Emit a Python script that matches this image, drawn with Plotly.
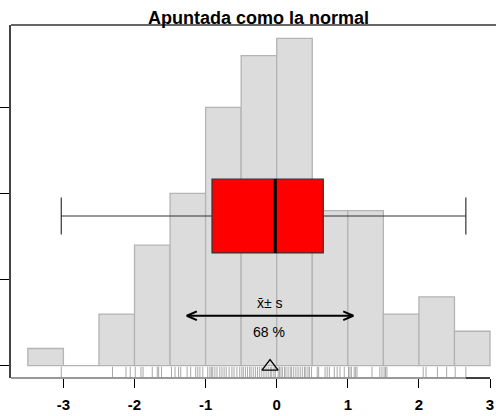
import plotly.graph_objects as go

# Histogram: bin edges and counts
bin_edges = [-3.5, -3.0, -2.5, -2.0, -1.5, -1.0, -0.5, 0.0, 0.5, 1.0, 1.5, 2.0, 2.5, 3.0]
counts = [1, 0, 3, 7, 10, 15, 18, 19, 9, 9, 3, 4, 2]

# Individual observations for the rug
rug_x = [
    -3.03,
    -2.31, -2.12, -2.06,
    -1.99, -1.91, -1.88, -1.75, -1.68, -1.66, -1.62,
    -1.48, -1.43, -1.38, -1.35, -1.26, -1.21, -1.14, -1.11, -1.08, -1.04,
    -0.97, -0.94, -0.92, -0.90, -0.87, -0.84, -0.80, -0.77, -0.74, -0.71,
    -0.67, -0.63, -0.60, -0.56, -0.52,
    -0.49, -0.47, -0.44, -0.41, -0.38, -0.36, -0.33, -0.30, -0.27, -0.24,
    -0.21, -0.18, -0.15, -0.12, -0.09, -0.07, -0.04, -0.02,
    0.02, 0.04, 0.06, 0.08, 0.11, 0.13, 0.16, 0.19, 0.21, 0.24,
    0.27, 0.30, 0.33, 0.36, 0.39, 0.41, 0.44, 0.46, 0.49,
    0.57, 0.59, 0.68, 0.71, 0.74, 0.81, 0.85, 0.89, 0.95,
    1.01, 1.03, 1.05, 1.09, 1.11, 1.13, 1.34, 1.45, 1.48,
    1.51, 1.53, 1.55,
    2.06, 2.10, 2.26, 2.39,
    2.51, 2.66,
]

# Box-plot summary
box_low, box_q1, box_median, box_q3, box_high = -3.03, -0.91, -0.02, 0.655, 2.66
box_center, box_height = 8.69, 4.28

# Mean and standard deviation
mean_x, sd_x = -0.094, 1.17
pct_label = "68 %"

x_ticks = [-3, -2, -1, 0, 1, 2, 3]
y_ticks = [0, 5, 10, 15]

x_range = [-3.737, 3.084]
y_range = [-0.714, 19.78]

W, H = 496, 416
margin = dict(l=11, r=0, t=25, b=38)
px_x = (W - margin["l"] - margin["r"]) / (x_range[1] - x_range[0])
px_y = (H - margin["t"] - margin["b"]) / (y_range[1] - y_range[0])

centers = [(a + b) / 2 for a, b in zip(bin_edges[:-1], bin_edges[1:])]
widths = [b - a for a, b in zip(bin_edges[:-1], bin_edges[1:])]

fig = go.Figure()

fig.add_trace(go.Bar(
    x=centers, y=counts, width=widths,
    marker=dict(color="#dcdcdc", line=dict(color="#b4b4b4", width=1.3)),
    hoverinfo="skip",
))

# Rug of observations beneath the bars
rx, ry = [], []
for v in rug_x:
    rx += [v, v, None]
    ry += [-0.06, -0.67, None]
fig.add_trace(go.Scatter(x=rx, y=ry, mode="lines",
                         line=dict(color="#a8a8a8", width=1), hoverinfo="skip"))

fig.add_trace(go.Box(
    orientation="h",
    y=[box_center], q1=[box_q1], median=[box_median], q3=[box_q3],
    lowerfence=[box_low], upperfence=[box_high],
    width=box_height, whiskerwidth=0.5,
    fillcolor="#ff0000", line=dict(color="#333333", width=1.2),
    hoverinfo="skip",
))

# Double arrow spanning mean ± sd
arrow_y = 2.90
head_dx = 10 / px_x
head_dy = 4.3 / px_y
lo, hi = mean_x - sd_x, mean_x + sd_x
ax_ = [lo, hi, None,
       lo + head_dx, lo, lo + head_dx, None,
       hi - head_dx, hi, hi - head_dx]
ay_ = [arrow_y, arrow_y, None,
       arrow_y + head_dy, arrow_y, arrow_y - head_dy, None,
       arrow_y + head_dy, arrow_y, arrow_y - head_dy]
fig.add_trace(go.Scatter(x=ax_, y=ay_, mode="lines",
                         line=dict(color="black", width=2), hoverinfo="skip"))

# Mean marker on the axis
fig.add_trace(go.Scatter(x=[mean_x], y=[-0.05], mode="markers",
                         marker=dict(symbol="triangle-up-open", size=14,
                                     color="black", line=dict(width=1.3)),
                         hoverinfo="skip"))

txt_font = dict(family="Liberation Sans, Arial", size=14, color="black")
fig.add_annotation(x=mean_x, y=3.64, text="x\u0304\u00b1 s", showarrow=False, font=txt_font)
fig.add_annotation(x=mean_x - 0.02, y=1.94, text=pct_label, showarrow=False, font=txt_font)

# Median line and frame
fig.add_shape(type="line", layer="above", x0=box_median, x1=box_median,
              y0=box_center - box_height / 2, y1=box_center + box_height / 2,
              line=dict(color="black", width=3))
fig.add_shape(type="line", xref="paper", yref="paper", x0=0, x1=1, y0=1, y1=1,
              line=dict(color="#666666", width=2))
fig.add_shape(type="line", xref="x", yref="paper", x0=x_range[0], x1=box_high, y0=0, y1=0,
              line=dict(color="#777777", width=1.5))
fig.add_shape(type="line", xref="x", yref="paper", x0=box_high, x1=x_ticks[-1], y0=0, y1=0,
              line=dict(color="black", width=1.5))

fig.update_layout(
    width=W, height=H, margin=margin,
    paper_bgcolor="white", plot_bgcolor="white",
    showlegend=False,
    font=dict(family="Liberation Sans, Arial", color="black"),
    title=dict(text="Apuntada como la normal", x=258.5 / W, xanchor="center",
               y=1 - 17.5 / H, yanchor="middle",
               font=dict(size=18, weight="bold", color="black")),
    xaxis=dict(range=x_range, tickvals=x_ticks, ticktext=[str(t) for t in x_ticks],
               ticks="outside", ticklen=9, tickwidth=1.3, tickcolor="black",
               tickfont=dict(size=15, weight="bold"), ticklabelstandoff=4,
               showgrid=False, zeroline=False, showline=False),
    yaxis=dict(range=y_range, tickvals=y_ticks, showticklabels=False,
               ticks="outside", ticklen=9, tickwidth=1.3, tickcolor="black",
               showgrid=False, zeroline=False, showline=True,
               linecolor="#444444", linewidth=2),
)

fig.write_html("out.html")
